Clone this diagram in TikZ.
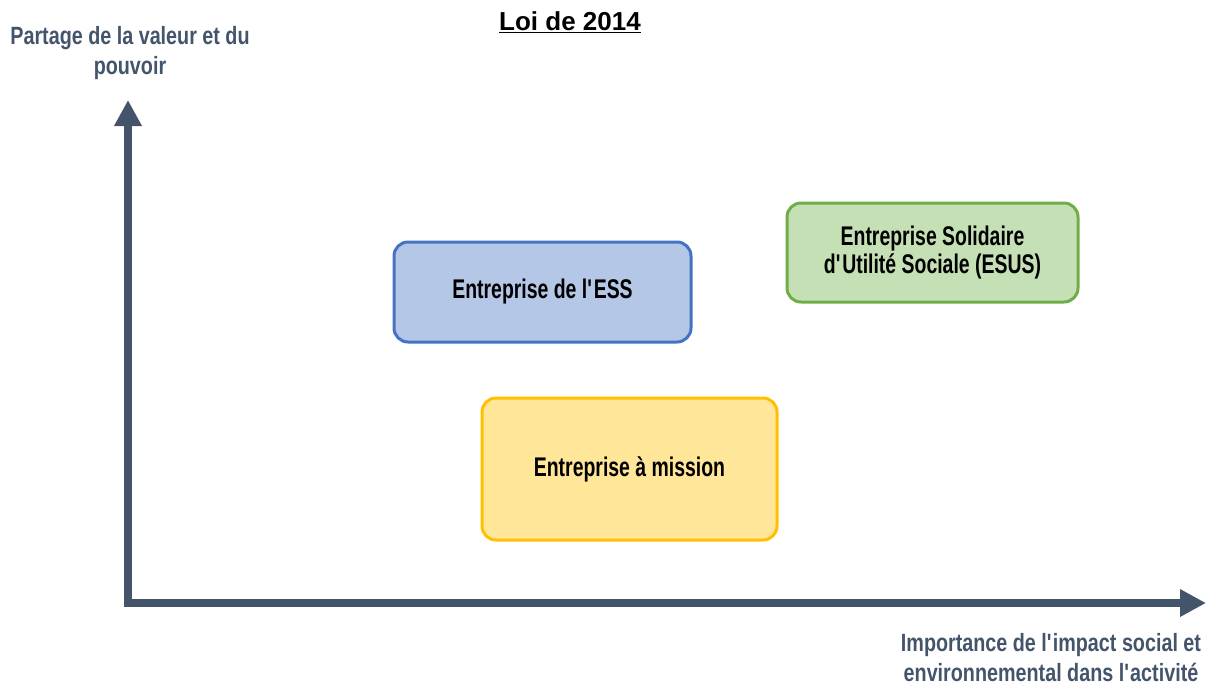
\documentclass[tikz,border=0pt]{standalone}
\usepackage{fontspec}
\setmainfont{Liberation Sans}
\newfontfamily\boxfont{Liberation Sans}[FakeStretch=0.72]
\newfontfamily\axfont{Liberation Sans}[FakeStretch=0.79]
\usetikzlibrary{arrows.meta}
\definecolor{axiscol}{HTML}{44546A}
\definecolor{essfill}{HTML}{B4C7E7}
\definecolor{essdraw}{HTML}{4472C4}
\definecolor{esusfill}{HTML}{C5E0B4}
\definecolor{esusdraw}{HTML}{70AD47}
\definecolor{misfill}{HTML}{FFE699}
\definecolor{misdraw}{HTML}{FFC000}
\tikzset{
  box/.style={rounded corners=14pt, line width=3pt, align=center,
    font=\boxfont\fontsize{27}{28}\selectfont\bfseries, text=black, inner sep=0pt},
  axis/.style={line width=8pt, draw=axiscol,
    -{Triangle[length=26pt,width=26pt]}},
  axlabel/.style={font=\axfont\fontsize{25}{30}\selectfont\bfseries, text=axiscol, align=center}
}
\begin{document}
\begin{tikzpicture}[x=1pt,y=-1pt]
\useasboundingbox (0,0) rectangle (1215,686);
% axes
\coordinate (O) at (128,603);
\coordinate (Ytip) at (128,100);
\coordinate (Xtip) at (1206,603);
\draw[axis] (128,607) -- (Ytip);
\draw[axis] (124,603) -- (Xtip);
% labels
\node[font=\fontsize{26}{30}\selectfont\bfseries] (title) at (570,22) {\underline{Loi de 2014}};
\node[axlabel] (ylab) at (130,53) {Partage de la valeur et du\\pouvoir};
\node[axlabel] (xlab) at (1051,658) {Importance de l\textquotesingle impact social et\\environnemental dans l\textquotesingle activité};
% boxes
\node[box, fill=essfill, draw=essdraw, minimum width=297pt, minimum height=100pt] (ess) at (542.5,292) {Entreprise de l\textquotesingle ESS};
\node[box, fill=esusfill, draw=esusdraw, minimum width=291pt, minimum height=99pt] (esus) at (932.5,252.5) {Entreprise Solidaire\\d\textquotesingle Utilité Sociale (ESUS)};
\node[box, fill=misfill, draw=misdraw, minimum width=295pt, minimum height=142pt] (mis) at (629.5,469) {Entreprise à mission};
\end{tikzpicture}
\end{document}
